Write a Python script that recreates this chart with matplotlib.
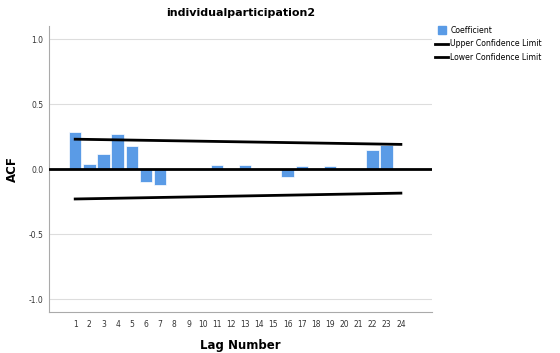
# ACF bar chart, SPSS style
import matplotlib.pyplot as plt
from matplotlib.lines import Line2D
import numpy as np

lags = list(range(1, 25))
coefficient = [0.285, 0.038, 0.115, 0.27, 0.177, -0.10, -0.123, 0.0, 0.0, -0.005,
               0.035, 0.0, 0.03, 0.0, 0.0, -0.06, 0.025, 0.0, 0.025, -0.005,
               -0.005, 0.145, 0.185, 0.005]
limit_lags = [1, 24]
upper_limit = [0.23, 0.19]
lower_limit = [-0.23, -0.185]

bar_color = '#5a9be6'

fig = plt.figure(figsize=(5.6, 3.53), dpi=100)
ax = fig.add_axes([0.0875, 0.116, 0.684, 0.81])

ax.bar(lags, coefficient, width=0.88, color=bar_color, edgecolor='white', linewidth=0.5, zorder=3)
ax.axhline(0, color='black', lw=2, zorder=4)
ax.plot(limit_lags, upper_limit, color='black', lw=2, zorder=4)
ax.plot(limit_lags, lower_limit, color='black', lw=2, zorder=4)

ax.set_xlim(-0.85, 26.2)
ax.set_ylim(-1.1, 1.1)
ax.set_yticks([-1.0, -0.5, 0.0, 0.5, 1.0])
ax.set_yticklabels(['-1.0', '-0.5', '0.0', '0.5', '1.0'])
ax.set_xticks(lags)
ax.tick_params(length=0, labelsize=5.5, labelcolor='#333333')
ax.tick_params(axis='y', pad=4)
ax.tick_params(axis='x', pad=6)
ax.yaxis.grid(True, color='#dddddd', lw=0.8, zorder=0)
for s in ['top', 'right']:
    ax.spines[s].set_visible(False)
for s in ['left', 'bottom']:
    ax.spines[s].set_color('#aaaaaa')
    ax.spines[s].set_linewidth(0.8)

ax.set_title('individualparticipation2', fontsize=8, fontweight='bold', pad=7)
ax.set_ylabel('ACF', fontsize=8.5, fontweight='bold', labelpad=7)
ax.set_xlabel('Lag Number', fontsize=8.5, fontweight='bold', labelpad=7)

handles = [Line2D([], [], marker='s', markersize=5.5, color=bar_color, linestyle='None'),
           Line2D([], [], color='black', lw=2),
           Line2D([], [], color='black', lw=2)]
labels = ['Coefficient', 'Upper Confidence Limit', 'Lower Confidence Limit']
fig.legend(handles, labels, loc='upper left', bbox_to_anchor=(0.772, 0.935),
           frameon=False, fontsize=5.6, handlelength=1.6,
           handletextpad=0.3, labelspacing=0.55, borderaxespad=0)

fig.savefig('out.png', dpi=100)
